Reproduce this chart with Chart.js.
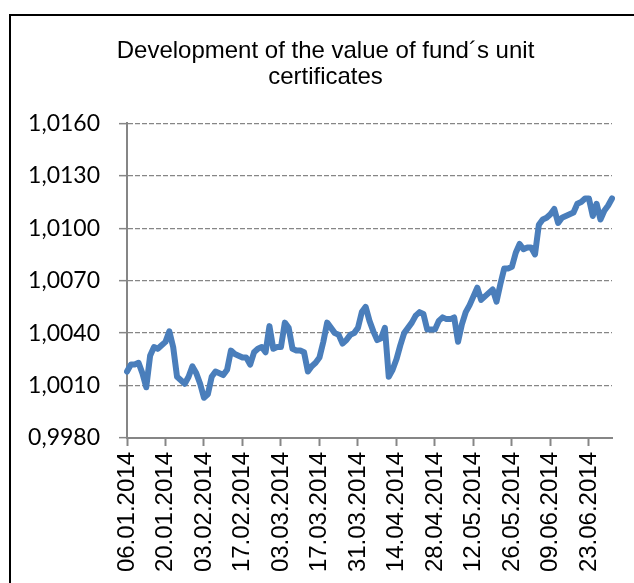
<!DOCTYPE html>
<html>
<head>
<meta charset="utf-8">
<script src="https://cdn.jsdelivr.net/npm/chart.js@4.4.0/dist/chart.umd.min.js"></script>
<style>
  html, body { margin: 0; padding: 0; background: #fff; overflow: hidden; }
  #wrap { position: relative; width: 634px; height: 583px; }
  #frame { position: absolute; left: 9px; top: 14px; width: 700px; height: 700px; border: 2px solid #000; }
  #chart { position: absolute; left: 0; top: 0; }
</style>
</head>
<body>
<div id="wrap">
  <div id="frame"></div>
  <canvas id="chart" width="634" height="583"></canvas>
</div>
<script>
/* data */
const TITLE = ["Development of the value of fund\u00b4s unit", "certificates"];
const START_DATE = [2014, 0, 6];   // 06.01.2014, trading days only
const LABEL_EVERY = 10;

const unitValues = [
  1.0018, 1.0022, 1.0022, 1.0023, 1.0017, 1.0009, 1.0027, 1.0032, 1.0031, 1.0033,
  1.0035, 1.0041, 1.0032, 1.0015, 1.0013, 1.0011, 1.0015, 1.0021, 1.0017, 1.0011,
  1.0003, 1.0005, 1.0015, 1.0018, 1.0017, 1.0016, 1.0019, 1.0030, 1.0028, 1.0027,
  1.0026, 1.0026, 1.0022, 1.0029, 1.0031, 1.0032, 1.0029, 1.0044, 1.0031, 1.0032,
  1.0032, 1.0046, 1.0043, 1.0031, 1.0030, 1.0030, 1.0029, 1.0018, 1.0021, 1.0023,
  1.0026, 1.0035, 1.0046, 1.0043, 1.0040, 1.0039, 1.0034, 1.0036, 1.0039, 1.0040,
  1.0043, 1.0052, 1.0055, 1.0047, 1.0041, 1.0036, 1.0037, 1.0043, 1.0015, 1.0019,
  1.0025, 1.0033, 1.0040, 1.0043, 1.0046, 1.0050, 1.0052, 1.0051, 1.0042, 1.0042,
  1.0042, 1.0047, 1.0049, 1.0048, 1.0048, 1.0049, 1.0035, 1.0045, 1.0052, 1.0056,
  1.0061, 1.0066, 1.0059, 1.0061, 1.0063, 1.0065, 1.0058, 1.0068, 1.0077, 1.0077,
  1.0078, 1.0086, 1.0091, 1.0088, 1.0089, 1.0089, 1.0085, 1.0102, 1.0105, 1.0106,
  1.0108, 1.0111, 1.0103, 1.0106, 1.0107, 1.0108, 1.0109, 1.0114, 1.0115, 1.0117,
  1.0117, 1.0107, 1.0114, 1.0105, 1.0110, 1.0113, 1.0117
];

const Y_MIN = 0.998;
const Y_MAX = 1.016;
const Y_STEP = 0.003;

// weekday dates as category labels
const dates = [];
{
  const d = new Date(START_DATE[0], START_DATE[1], START_DATE[2]);
  while (dates.length < unitValues.length) {
    const wd = d.getDay();
    if (wd !== 0 && wd !== 6) {
      const dd = String(d.getDate()).padStart(2, "0");
      const mm = String(d.getMonth() + 1).padStart(2, "0");
      dates.push(`${dd}.${mm}.${d.getFullYear()}`);
    }
    d.setDate(d.getDate() + 1);
  }
}

/* chart */
const AXIS_GRAY = "#868686";

new Chart(document.getElementById("chart"), {
  type: "line",
  data: {
    labels: dates,
    datasets: [{
      data: unitValues,
      borderColor: "#4a7ebb",
      borderWidth: 6,
      borderJoinStyle: "round",
      borderCapStyle: "round",
      pointRadius: 0,
      tension: 0,
      fill: false
    }]
  },
  options: {
    responsive: false,
    animation: false,
    layout: { padding: { left: 20, right: 3, top: 0, bottom: 0 } },
    plugins: {
      legend: { display: false },
      tooltip: { enabled: false },
      title: {
        display: true,
        text: TITLE,
        color: "#000",
        font: { family: "'Liberation Sans', Arial, sans-serif", size: 24, weight: "normal", lineHeight: 1.09 },
        padding: { top: 38, bottom: 33 }
      }
    },
    scales: {
      x: {
        type: "category",
        offset: false,
        afterFit: (s) => { s.height = 145; s.paddingLeft = 0; s.paddingRight = 0; },
        grid: {
          drawOnChartArea: false,
          drawTicks: true,
          tickLength: 8,
          tickWidth: 2,
          tickColor: (c) => (c.index % LABEL_EVERY === 0 ? AXIS_GRAY : "rgba(0,0,0,0)")
        },
        border: { display: true, color: AXIS_GRAY, width: 2 },
        ticks: {
          autoSkip: false,
          minRotation: 90,
          maxRotation: 90,
          padding: 6,
          color: "#000",
          font: { family: "'Liberation Sans', Arial, sans-serif", size: 24 },
          callback: function (v, i) { return i % LABEL_EVERY === 0 ? this.getLabelForValue(v) : ""; }
        }
      },
      y: {
        min: Y_MIN,
        max: Y_MAX,
        afterFit: (s) => { s.width = 107; },
        grid: {
          color: AXIS_GRAY,
          lineWidth: 1.3,
          drawTicks: true,
          tickLength: 8,
          tickWidth: 1.5,
          tickBorderDash: []
        },
        border: { display: true, color: AXIS_GRAY, width: 2, dash: [5, 2] },
        ticks: {
          stepSize: Y_STEP,
          padding: 19,
          color: "#000",
          font: { family: "Lato, 'Open Sans', sans-serif", size: 23 },
          callback: (v) => v.toFixed(4).replace(".", ",")
        }
      },
      // empty right-hand box so the plot ends where the reference does
      yPad: {
        position: "right",
        display: true,
        afterFit: (s) => { s.width = 19; },
        grid: { display: false },
        border: { display: false },
        ticks: { display: false }
      }
    }
  }
});
</script>
</body>
</html>
